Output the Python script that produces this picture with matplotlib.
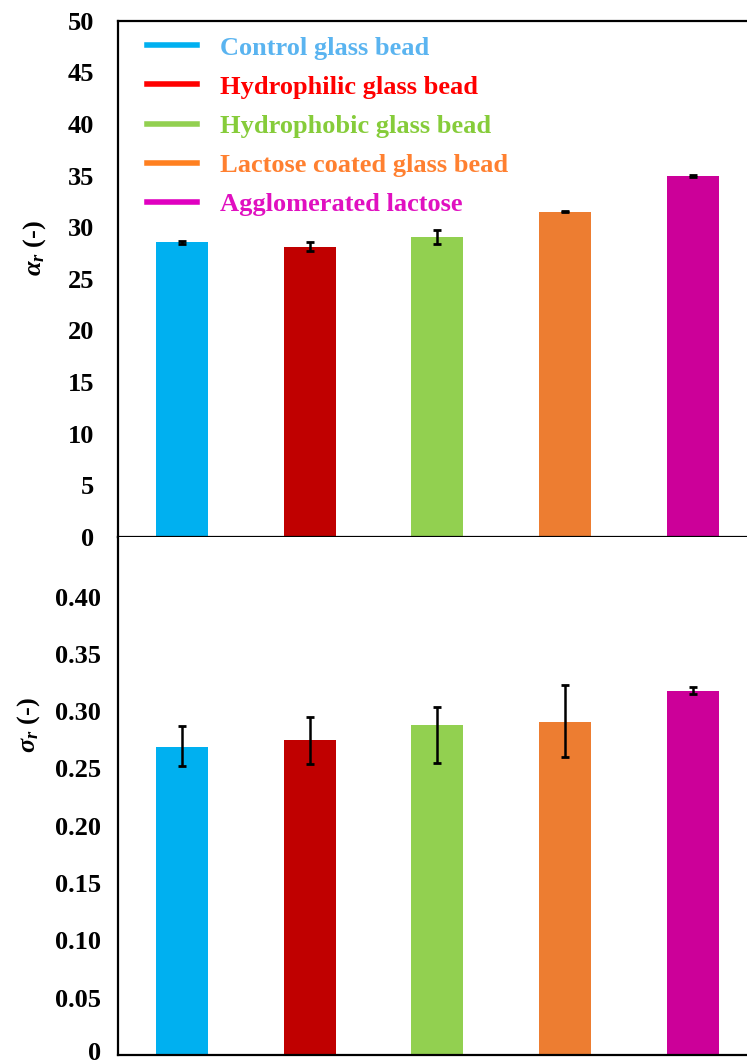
#!/usr/bin/env python3
"""Angle of repose and its spread for the glass bead / lactose samples."""

import matplotlib
matplotlib.use("Agg")
import matplotlib.pyplot as plt
import matplotlib.transforms as mtransforms
from matplotlib.lines import Line2D

plt.rcParams["font.family"] = ["Liberation Serif", "DejaVu Serif"]
plt.rcParams["font.weight"] = "bold"
plt.rcParams["mathtext.fontset"] = "custom"
plt.rcParams["mathtext.rm"] = "Liberation Serif:bold"
plt.rcParams["mathtext.it"] = "Liberation Serif:italic:bold"
plt.rcParams["mathtext.bf"] = "Liberation Serif:bold"

samples = ["Control glass bead", "Hydrophilic glass bead", "Hydrophobic glass bead",
           "Lactose coated glass bead", "Agglomerated lactose"]
bar_colors = ["#00B0F0", "#C00000", "#92D050", "#ED7D31", "#CC0099"]
line_colors = ["#00B0F0", "#FF0000", "#92D050", "#FF8020", "#E000C0"]
text_colors = ["#5AB4F0", "#FF0000", "#86CC3A", "#FF8030", "#E010C0"]

# angle of repose (deg) and error
alpha_r = [28.55, 28.1, 29.07, 31.5, 35.0]
alpha_err = [0.15, 0.45, 0.65, 0.05, 0.1]

# sigma_r and asymmetric error (lower, upper)
sigma_r = [0.269, 0.275, 0.288, 0.291, 0.318]
sigma_lo = [0.017, 0.021, 0.033, 0.031, 0.003]
sigma_hi = [0.018, 0.020, 0.016, 0.032, 0.003]

alpha_ticks = [0, 5, 10, 15, 20, 25, 30, 35, 40, 45, 50]
sigma_ticks = [0, 0.05, 0.10, 0.15, 0.20, 0.25, 0.30, 0.35, 0.40]
sigma_ticklabels = ["0", "0.05", "0.10", "0.15", "0.20", "0.25", "0.30", "0.35", "0.40"]

W, H = 747, 1064
fig = plt.figure(figsize=(W / 100, H / 100), dpi=100)

left = 118 / W
ax_w = 640 / W
ax1 = fig.add_axes([left, (H - 537) / H, ax_w, (537 - 20.7) / H])
ax2 = fig.add_axes([left, (H - 1055) / H, ax_w, (1055 - 537) / H])

x = list(range(len(samples)))
xmax = -0.5 + 640 / 127.75
err_kw = dict(ecolor="black", elinewidth=1.8, capsize=3, capthick=2)

ax1.bar(x, alpha_r, width=0.407, color=bar_colors, yerr=alpha_err, error_kw=err_kw)
ax2.bar(x, sigma_r, width=0.407, color=bar_colors, yerr=[sigma_lo, sigma_hi], error_kw=err_kw)

ax1.set_xlim(-0.5, xmax)
ax2.set_xlim(-0.5, xmax)
ax1.set_ylim(0, 50)
ax2.set_ylim(0, 0.452)

ax1.set_yticks(alpha_ticks)
ax1.set_yticklabels([str(t) for t in alpha_ticks])
ax2.set_yticks(sigma_ticks)
ax2.set_yticklabels(sigma_ticklabels)

for ax in (ax1, ax2):
    ax.set_xticks([])
    ax.spines["right"].set_visible(False)
    for s in ax.spines.values():
        s.set_linewidth(1.6)
    ax.tick_params(axis="y", length=0, labelsize=19)
ax1.tick_params(axis="y", pad=17)
ax2.tick_params(axis="y", pad=12)
ax2.spines["top"].set_visible(False)

# nudge the lowest "0" up a little so it stays on the canvas
zero_lbl = ax2.yaxis.get_major_ticks()[0].label1
zero_lbl.set_transform(zero_lbl.get_transform()
                       + mtransforms.ScaledTranslation(0, 4 / 100, fig.dpi_scale_trans))

ax1.set_ylabel(r"$\alpha_r$ (-)", fontsize=19, fontweight="bold")
ax1.yaxis.set_label_coords(-0.11, 0.56)
ax2.set_ylabel(r"$\sigma_r$ (-)", fontsize=19, fontweight="bold")
ax2.yaxis.set_label_coords(-0.118, 0.637)

handles = [Line2D([0], [0], color=c, lw=4) for c in line_colors]
leg = ax1.legend(handles, samples, loc="upper left", bbox_to_anchor=(0.046, 0.97),
                 frameon=False, fontsize=19, handlelength=1.86, handletextpad=0.9,
                 labelspacing=0.59, borderpad=0, borderaxespad=0)
for t, c in zip(leg.get_texts(), text_colors):
    t.set_color(c)
    t.set_fontweight("bold")

fig.savefig("out.png", dpi=100)
